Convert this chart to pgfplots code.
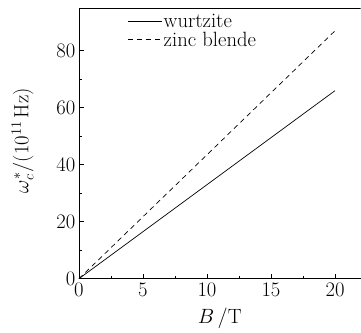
\documentclass[border=0pt]{standalone}
\usepackage{pgfplots}
\pgfplotsset{compat=1.18}
\begin{document}
\begin{tikzpicture}
\begin{axis}[
  scale only axis,
  width=282bp, height=271bp,
  xmin=0, xmax=22, ymin=0, ymax=95,
  axis x line=bottom, axis y line=left,
  axis line style={-, line width=0.7pt},
  xtick={0,5,10,15,20}, ytick={0,20,40,60,80},
  minor x tick num=1, minor y tick num=1,
  tick align=inside,
  major tick length=5bp, minor tick length=3bp,
  tick style={black, line width=0.6pt},
  tick label style={font=\fontsize{20.74}{24}\selectfont},
  xticklabel style={yshift=-1bp},
  label style={font=\fontsize{20.74}{24}\selectfont},
  xlabel={$B\,/\mathrm{T}$},
  xlabel style={yshift=-5bp},
  ylabel={$\omega_c^{*}/(10^{11}\,\mathrm{Hz})$},
  ylabel style={at={(axis description cs:-0.20,0.51)}, anchor=center},
  legend style={draw=none, fill=none, inner sep=0pt,
    at={(rel axis cs:0.172,0.98)}, anchor=north west,
    font=\fontsize{20.74}{22}\selectfont, row sep=2bp,
    nodes={inner xsep=1.5bp, inner ysep=0.5bp}},
  legend cell align=left,
  legend image code/.code={\draw[#1] (0bp,0bp) -- (34bp,0bp);},
]
\addplot[black, line width=0.7pt] coordinates {(0,0) (20,66)};
\addlegendentry{wurtzite}
\addplot[black, line width=0.7pt, dash pattern=on 5bp off 4bp] coordinates {(0,0) (20,87)};
\addlegendentry{zinc blende}
\draw[line width=0.7pt] (rel axis cs:0,1) -- (rel axis cs:1,1);
\coordinate (tl) at (rel axis cs:0,1);
\coordinate (bl) at (rel axis cs:0,0);
\end{axis}
\path ([yshift=8bp]tl) ([xshift=-79bp]bl);
\end{tikzpicture}
\end{document}
